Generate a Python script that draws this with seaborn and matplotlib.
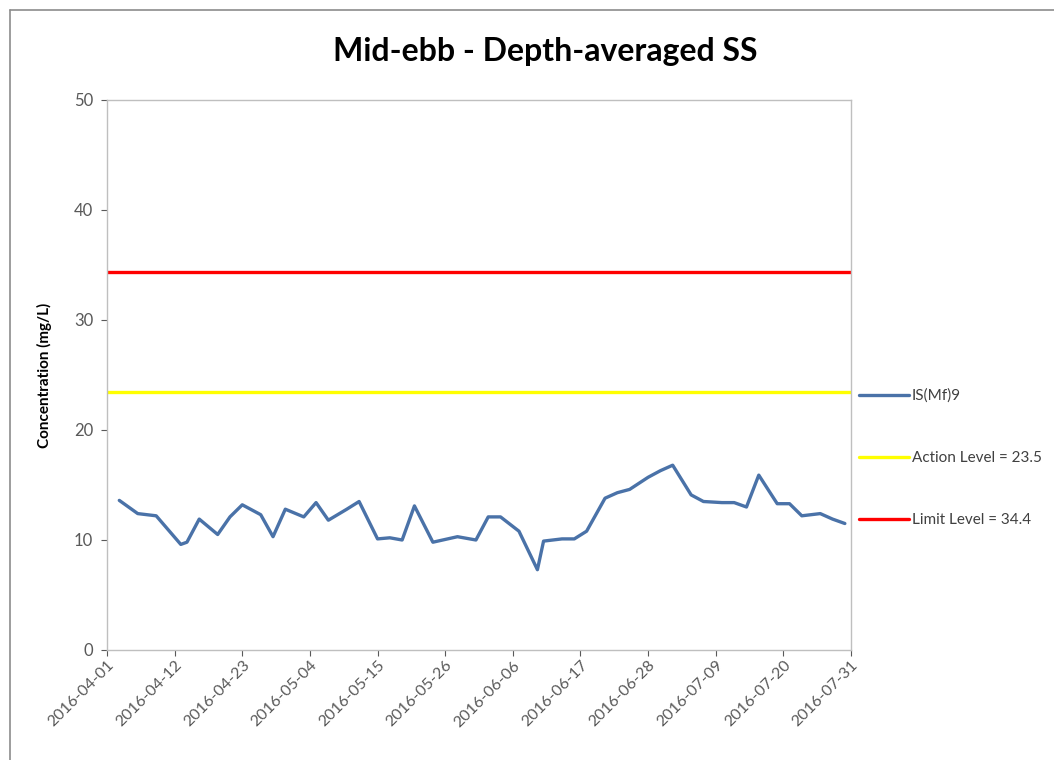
import matplotlib
matplotlib.use("Agg")
import matplotlib.pyplot as plt
import matplotlib.dates as mdates
from matplotlib.lines import Line2D
import seaborn as sns
import pandas as pd
import numpy as np

# ---- data ----
dates = ["2016-04-03", "2016-04-06", "2016-04-09", "2016-04-13", "2016-04-14",
         "2016-04-16", "2016-04-19", "2016-04-21", "2016-04-23", "2016-04-26",
         "2016-04-28", "2016-04-30", "2016-05-03", "2016-05-05", "2016-05-07",
         "2016-05-10", "2016-05-12", "2016-05-15", "2016-05-17", "2016-05-19",
         "2016-05-21", "2016-05-24", "2016-05-28", "2016-05-31", "2016-06-02",
         "2016-06-04", "2016-06-07", "2016-06-10", "2016-06-11", "2016-06-14",
         "2016-06-16", "2016-06-18", "2016-06-21", "2016-06-23", "2016-06-25",
         "2016-06-28", "2016-06-30", "2016-07-02", "2016-07-05", "2016-07-07",
         "2016-07-10", "2016-07-12", "2016-07-14", "2016-07-16", "2016-07-19",
         "2016-07-21", "2016-07-23", "2016-07-26", "2016-07-28", "2016-07-30"]
ss_values = [13.6, 12.4, 12.2, 9.6, 9.8,
             11.9, 10.5, 12.1, 13.2, 12.3,
             10.3, 12.8, 12.1, 13.4, 11.8,
             12.8, 13.5, 10.1, 10.2, 10.0,
             13.1, 9.8, 10.3, 10.0, 12.1,
             12.1, 10.8, 7.3, 9.9, 10.1,
             10.1, 10.8, 13.8, 14.3, 14.6,
             15.7, 16.3, 16.8, 14.1, 13.5,
             13.4, 13.4, 13.0, 15.9, 13.3,
             13.3, 12.2, 12.4, 11.9, 11.5]
series_name = "IS(Mf)9"
action_level = 23.5
limit_level = 34.4
tick_dates = ["2016-04-01", "2016-04-12", "2016-04-23", "2016-05-04", "2016-05-15",
              "2016-05-26", "2016-06-06", "2016-06-17", "2016-06-28", "2016-07-09",
              "2016-07-20", "2016-07-31"]
y_ticks = [0, 10, 20, 30, 40, 50]

df = pd.DataFrame({"date": pd.to_datetime(dates), "value": ss_values})

sns.set_theme(style="white")
plt.rcParams["font.family"] = ["Lato", "DejaVu Sans"]

W, H = 1054, 760
fig = plt.figure(figsize=(W / 100, H / 100), dpi=100)
ax = fig.add_axes([107 / W, 1 - 650 / H, 744 / W, 550 / H])

blue = "#4a72a8"
sns.lineplot(data=df, x="date", y="value", ax=ax, color=blue, linewidth=2.4,
             label=series_name)
xlim = (pd.Timestamp(tick_dates[0]), pd.Timestamp(tick_dates[-1]))
ax.plot(list(xlim), [action_level, action_level], color="#ffff00", linewidth=2.4,
        label=f"Action Level = {action_level}")
ax.plot(list(xlim), [limit_level, limit_level], color="#ff0000", linewidth=2.4,
        label=f"Limit Level = {limit_level}")

ax.set_xlim(*xlim)
ax.set_ylim(0, 50)
ax.set_yticks(y_ticks)
ax.set_xticks(pd.to_datetime(tick_dates))
ax.xaxis.set_major_formatter(mdates.DateFormatter("%Y-%m-%d"))
ax.tick_params(axis="x", labelsize=11.5, colors="#595959", length=4, width=0.8,
               direction="out", bottom=True, pad=2)
ax.tick_params(axis="y", labelsize=12, colors="#595959", length=4, width=0.8,
               direction="out", left=True, pad=6)
for lab in ax.get_xticklabels():
    lab.set_rotation(45)
    lab.set_ha("right")
    lab.set_rotation_mode("anchor")
for sp in ax.spines.values():
    sp.set_color("#bfbfbf")
    sp.set_linewidth(1.0)
    sp.set_visible(True)

ax.set_xlabel("")
ax.set_ylabel("Concentration (mg/L)", fontsize=11, fontweight="bold", color="black",
              labelpad=16)

fig.text(545 / W, 1 - 52 / H, "Mid-ebb - Depth-averaged SS", fontsize=23,
         fontweight="bold", ha="center", va="center", color="black")

leg = ax.legend(loc="center left", bbox_to_anchor=(1.0, (650 - 458) / 550),
                frameon=False, fontsize=11, handlelength=3.3, handletextpad=0.2,
                labelspacing=3.15, borderaxespad=0.5, borderpad=0)
for t in leg.get_texts():
    t.set_color("#404040")

# chart-area frame (partially outside the crop, as in the reference)
fig.add_artist(Line2D([10 / W, 10 / W], [0, 1 - 10 / H], transform=fig.transFigure,
                      color="#8c8c8c", linewidth=1.2))
fig.add_artist(Line2D([10 / W, 1], [1 - 10 / H, 1 - 10 / H], transform=fig.transFigure,
                      color="#8c8c8c", linewidth=1.2))

fig.savefig("out.png", dpi=100)
